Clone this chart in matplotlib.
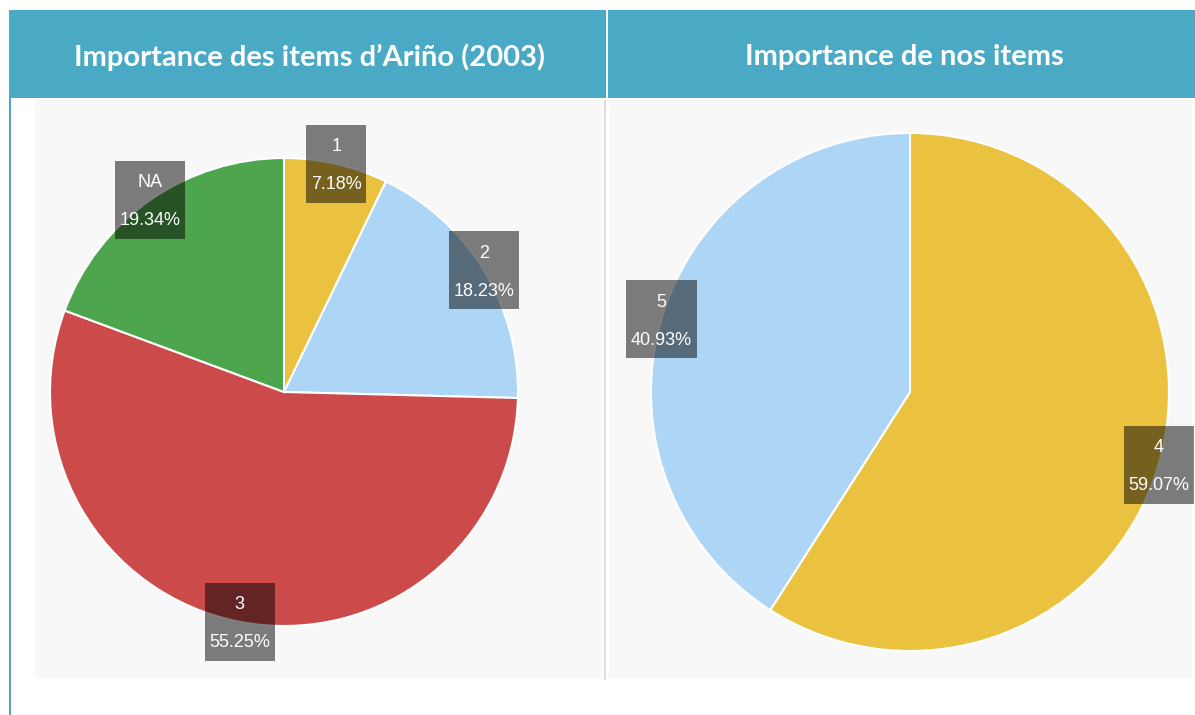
import matplotlib
matplotlib.use("Agg")
import matplotlib.pyplot as plt
import numpy as np
from matplotlib.patches import Rectangle
from matplotlib.transforms import offset_copy, IdentityTransform

W, H = 1195, 715

titles = ["Importance des items d’Ariño (2003)", "Importance de nos items"]

left_labels = ["1", "2", "3", "NA"]
left_values = [7.18, 18.23, 55.25, 19.34]
left_colors = ["#EBC23F", "#ADD5F5", "#CC4A4A", "#4DA64D"]

right_labels = ["4", "5"]
right_values = [59.07, 40.93]
right_colors = ["#EBC23F", "#ADD5F5"]

teal = "#4AAAC5"

plt.rcParams['font.family'] = ['Liberation Sans', 'DejaVu Sans']
fig = plt.figure(figsize=(W / 100, H / 100), dpi=100)


def fig_rect(x, y, w, h, **kw):
    # x, y = top-left in pixels
    r = Rectangle((x / W, 1 - (y + h) / H), w / W, h / H,
                  transform=fig.transFigure, zorder=-5, **kw)
    fig.patches.append(r)
    return r


# header band
fig_rect(9, 10, W - 9, 88, facecolor=teal, edgecolor='none')
fig_rect(606, 10, 2, 88, facecolor='white', edgecolor='none')
fig.text(309 / W, 1 - 57 / H, titles[0], color='white', fontsize=21,
         fontweight='bold', family='Lato', ha='center', va='center')
fig.text(904 / W, 1 - 57 / H, titles[1], color='white', fontsize=21,
         fontweight='bold', family='Lato', ha='center', va='center')

# left border + panels
fig_rect(9, 98, 1.5, H - 98, facecolor=teal, edgecolor='none')
fig_rect(35, 100, 568, 578, facecolor='#F8F8F8', edgecolor='none')
fig_rect(609, 100, 583, 578, facecolor='#F8F8F8', edgecolor='none')
fig_rect(604, 100, 2, 580, facecolor='#DDDDDD', edgecolor='none')


def draw_pie(cx, cy, r, values, labels, colors):
    ax = fig.add_axes([(cx - r) / W, 1 - (cy + r) / H, 2 * r / W, 2 * r / H])
    ax.pie(values, colors=colors, startangle=90, counterclock=False, radius=1,
           wedgeprops=dict(edgecolor='white', linewidth=1.5))
    ax.set_xlim(-1, 1)
    ax.set_ylim(-1, 1)
    ax.set_axis_off()

    total = sum(values)
    cum = np.cumsum(values)
    renderer = fig.canvas.get_renderer()
    for lab, v, c in zip(labels, values, cum):
        th = np.deg2rad(360 * (c - v / 2) / total)
        x, y = np.sin(th), np.cos(th)
        t1 = ax.text(x, y, lab, color='white', fontsize=13, ha='center', va='center',
                     transform=offset_copy(ax.transData, fig=fig, x=0, y=17, units='dots'),
                     zorder=5)
        t2 = ax.text(x, y, f"{v:.2f}%", color='white', fontsize=13, ha='center', va='center',
                     transform=offset_copy(ax.transData, fig=fig, x=0, y=-21, units='dots'),
                     zorder=5)
        bw = max(t1.get_window_extent(renderer).width, t2.get_window_extent(renderer).width) + 9
        px, py = ax.transData.transform((x, y))
        box = Rectangle((px - bw / 2, py - 39), bw, 78, transform=IdentityTransform(),
                        facecolor='black', alpha=0.5, edgecolor='none', zorder=4)
        box.set_clip_on(False)
        ax.add_artist(box)
    return ax


draw_pie(284, 392, 234, left_values, left_labels, left_colors)
draw_pie(910, 392, 259, right_values, right_labels, right_colors)

fig.savefig("out.png", dpi=100)
